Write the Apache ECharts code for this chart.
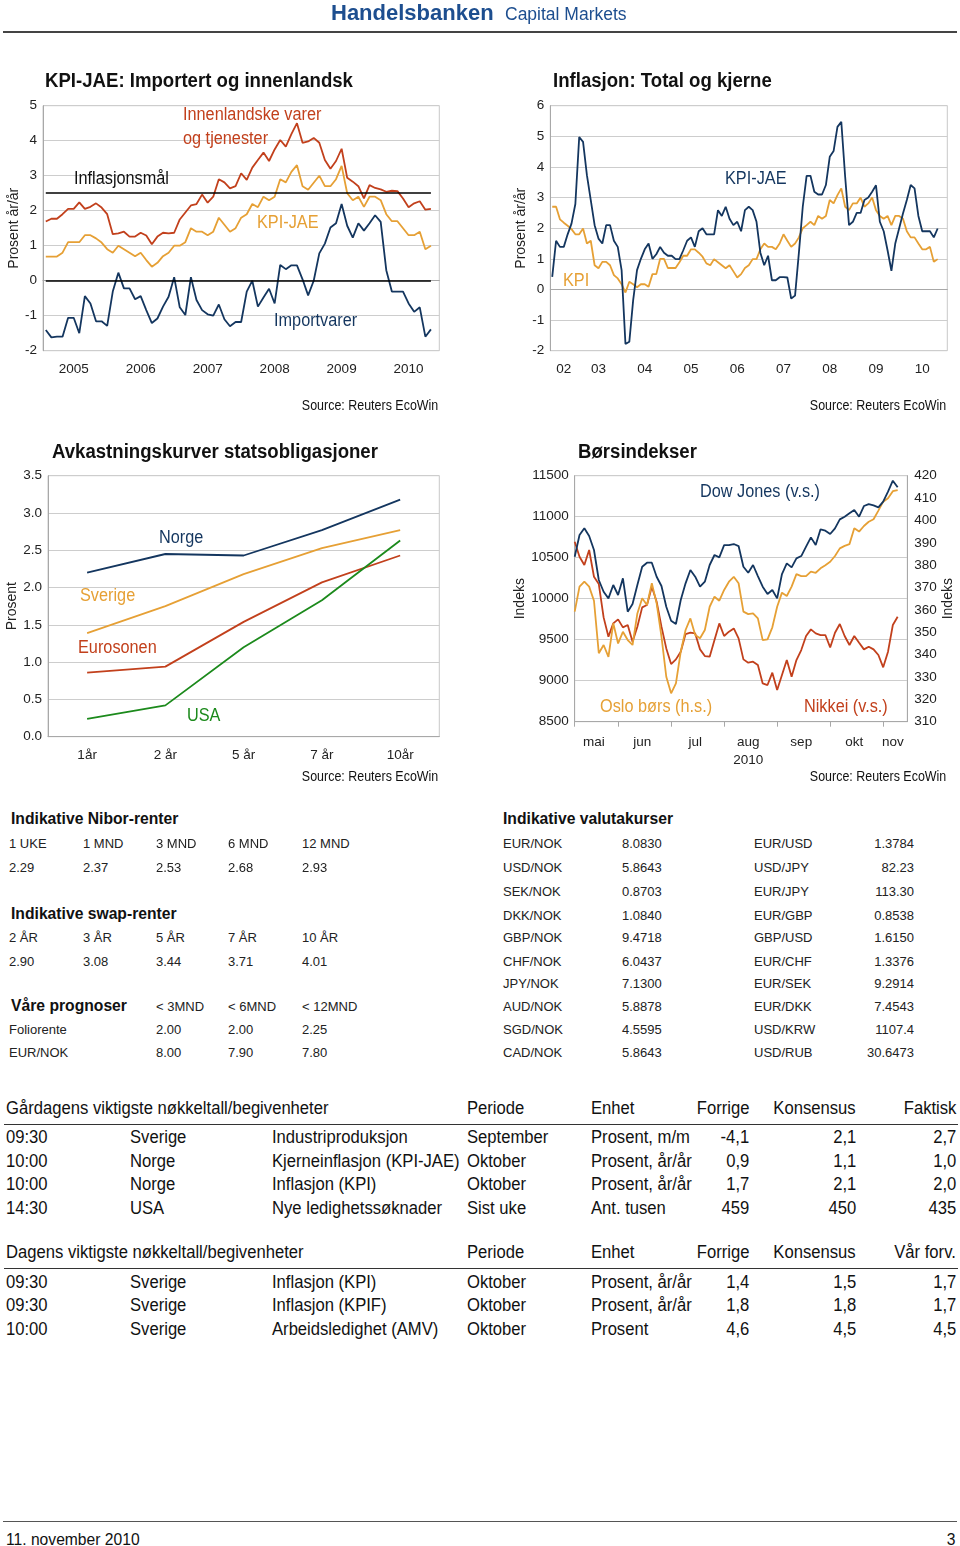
<!DOCTYPE html>
<html>
<head>
<meta charset="utf-8">
<script src="https://cdn.jsdelivr.net/npm/echarts@6/dist/echarts.min.js"></script>
<style>
  html,body{margin:0;padding:0;background:#fff;}
  body{width:960px;height:1546px;position:relative;overflow:hidden;font-family:'Liberation Sans',Arial,sans-serif;}
  #chart{position:absolute;left:0;top:0;width:960px;height:800px;}
  .t{position:absolute;white-space:nowrap;line-height:1;color:#111;z-index:2;}
  .hs{font-size:13px;color:#222;}
  .hb{font-size:15.7px;font-weight:bold;color:#111;}
  .bt{font-size:17.5px;color:#111;}
  .rule{position:absolute;height:0;}
</style>
</head>
<body>
<div id="chart"></div>
<script>
// ---------------- DATA ----------------
// Chart 1: KPI-JAE: Importert og innenlandsk (monthly, Jan 2005 - Oct 2010)
const domesticGoods = [1.69,1.77,1.77,1.9,2.05,2.05,2.24,2.05,2.11,2.21,2.09,1.9,
  1.33,1.35,1.4,1.26,1.26,1.37,1.29,1.04,1.26,1.37,1.35,1.37,
  1.75,1.95,2.15,2.19,2.46,2.23,2.4,2.9,2.81,2.64,2.7,3.07,
  2.88,3.23,3.45,3.66,3.42,3.75,4.02,3.83,4.19,4.5,3.94,3.98,
  4.08,3.94,3.45,3.2,3.42,3.77,2.94,2.83,2.7,2.35,2.73,2.65,
  2.61,2.54,2.57,2.56,2.35,2.1,2.21,2.27,2.03,2.05];
const kpiJaeCore = [0.69,0.69,0.69,0.8,1.1,1.1,1.1,1.3,1.3,1.21,1.09,0.9,
  0.8,1.0,0.9,0.8,0.7,0.8,0.59,0.4,0.51,0.7,0.8,1.0,
  1.0,1.1,1.5,1.4,1.4,1.3,1.4,1.8,1.6,1.4,1.5,1.8,
  1.9,2.19,2.1,2.4,2.3,2.4,2.9,2.81,3.11,3.3,2.7,2.6,
  2.8,3.0,2.7,2.7,2.9,3.28,2.5,2.3,2.4,2.11,2.4,2.4,
  2.3,1.9,1.7,1.7,1.5,1.3,1.3,1.4,0.9,1.0];
const importGoods = [-1.41,-1.62,-1.6,-1.6,-1.06,-1.06,-1.5,-0.44,-0.65,-1.16,-1.16,-1.29,
  -0.31,0.23,-0.22,-0.22,-0.53,-0.44,-0.84,-1.21,-1.08,-0.74,-0.46,0.1,
  -0.76,-0.98,0.1,-0.55,-0.84,-0.96,-1.0,-0.68,-1.1,-1.3,-1.18,-1.18,
  -0.31,0.0,-0.74,-0.48,-0.23,-0.65,0.45,0.33,0.44,0.44,0.04,-0.42,
  0.0,0.78,1.06,1.52,1.64,2.19,1.57,1.23,1.64,1.43,1.64,1.87,
  1.68,0.3,-0.31,-0.31,-0.31,-0.65,-0.89,-0.76,-1.6,-1.39];
const inflationTarget = 2.5;
const zeroLine = 0;

// Chart 2: Inflasjon: Total og kjerne (monthly, Jun 2002 - Oct 2010)
const inflKpiJae = [0.41,1.59,1.39,1.39,1.8,2.15,2.79,
  4.98,4.82,3.73,2.92,2.1,1.66,1.5,2.1,2.1,1.59,1.39,0.63,
  -1.78,-1.71,-0.35,0.63,1.0,1.31,1.5,1.0,1.15,1.39,1.2,1.1,
  1.1,0.99,0.99,1.28,1.59,1.7,1.39,1.9,2.0,1.8,1.8,1.8,
  2.59,2.4,2.7,2.31,2.1,2.21,1.9,2.59,2.7,2.59,2.21,1.2,
  0.79,1.1,0.3,0.3,0.4,0.4,0.39,-0.3,-0.2,1.2,2.7,3.71,
  3.71,3.19,3.1,3.1,3.41,4.33,4.52,5.31,5.47,3.68,2.1,2.21,
  2.5,2.5,2.92,3.0,3.19,3.4,2.21,1.9,1.28,0.61,1.5,1.99,
  2.48,2.92,3.41,3.3,2.4,1.9,1.9,1.9,1.7,1.99];
const inflKpi = [2.7,2.7,2.29,2.18,2.08,1.97,1.8,
  1.8,1.99,1.5,1.59,0.79,0.69,0.9,0.9,0.79,0.47,0.36,0.17,
  -0.1,0.25,0.17,0.07,0.17,0.17,0.09,0.5,0.5,1.0,1.0,0.7,
  0.7,0.7,0.89,1.1,1.1,1.31,1.31,1.2,1.07,0.85,0.79,0.99,
  0.89,0.79,0.69,0.79,0.59,0.39,0.5,0.7,0.79,0.99,0.99,1.31,
  1.5,1.39,1.39,1.31,1.5,1.8,1.59,1.39,1.5,1.7,2.0,2.1,
  2.21,2.1,2.4,2.31,2.4,2.92,2.81,3.08,3.3,2.7,2.59,2.81,
  2.81,3.0,2.7,2.81,3.0,2.59,2.4,2.31,2.4,2.1,2.4,2.4,
  2.31,1.9,1.7,1.7,1.5,1.31,1.31,1.39,0.9,0.99];

// Chart 3: Avkastningskurver statsobligasjoner
const maturities = ['1år','2 år','5 år','7 år','10år'];
const yieldNorge = [2.2,2.45,2.43,2.77,3.18];
const yieldSverige = [1.39,1.75,2.18,2.53,2.77];
const yieldEuro = [0.86,0.94,1.54,2.07,2.43];
const yieldUSA = [0.24,0.42,1.2,1.83,2.63];

// Chart 4: Børsindekser (every second trading day, May - Nov 2010)
const dowJones = [10512,10776,10858,10764,10594,10228,10085,10004,10167,10045,
  10248,9841,9935,10167,10390,10439,10439,10268,10155,9902,
  9732,9691,9984,10187,10350,10268,10146,10207,10411,10533,
  10504,10654,10654,10667,10642,10390,10317,10411,10276,10146,
  10057,10106,10004,10301,10431,10382,10492,10520,10634,10748,
  10654,10846,10829,10789,10858,10967,11000,11041,11081,11000,
  11130,11154,11138,11114,11183,11305,11439,11358];
const osloBors = [359.2,370.4,372.6,370.4,364.1,340.6,344.3,339,354,345,
  350.2,346.5,344.3,358.4,365.2,362.2,371.9,362.9,348,330.1,
  322.7,327.1,341.3,351,356.2,348.8,347.3,351,361.4,365.9,
  364.1,368.9,372.6,374.8,371.9,359.2,358.1,358.4,356.2,346.5,
  346.8,352.2,361.4,367.7,366.2,370.4,376,375.1,375.1,377.1,
  376.6,378.6,380,381.5,384.1,387.5,388.6,389.4,396.5,395,
  397.5,399.4,400.5,404.4,408.4,409.9,413.1,413.6];
const nikkei = [10695,10512,10411,10594,10268,10179,9772,9537,9699,9748,
  9650,9679,9476,9659,9894,9923,10146,9963,9659,9394,
  9203,9260,9354,9569,9585,9577,9382,9301,9293,9496,
  9699,9545,9598,9638,9516,9260,9220,9232,9191,8967,
  8947,9098,8886,9069,9252,9049,9252,9374,9545,9626,
  9577,9557,9557,9406,9585,9691,9545,9435,9545,9463,
  9382,9415,9382,9313,9163,9354,9679,9780];
const monthNames = ['jan','feb','mar','apr','mai','jun','jul','aug','sep','okt','nov','des'];

// Tables
const niborHeads = ['1 UKE','1 MND','3 MND','6 MND','12 MND'];
const niborVals = ['2.29','2.37','2.53','2.68','2.93'];
const swapHeads = ['2 ÅR','3 ÅR','5 ÅR','7 ÅR','10 ÅR'];
const swapVals = ['2.90','3.08','3.44','3.71','4.01'];
const progHeads = ['< 3MND','< 6MND','< 12MND'];
const progRows = [['Foliorente','2.00','2.00','2.25'],['EUR/NOK','8.00','7.90','7.80']];
const fxLeft = [['EUR/NOK','8.0830'],['USD/NOK','5.8643'],['SEK/NOK','0.8703'],['DKK/NOK','1.0840'],['GBP/NOK','9.4718'],
  ['CHF/NOK','6.0437'],['JPY/NOK','7.1300'],['AUD/NOK','5.8878'],['SGD/NOK','4.5595'],['CAD/NOK','5.8643']];
const fxRight = [['EUR/USD','1.3784'],['USD/JPY','82.23'],['EUR/JPY','113.30'],['EUR/GBP','0.8538'],['GBP/USD','1.6150'],
  ['EUR/CHF','1.3376'],['EUR/SEK','9.2914'],['EUR/DKK','7.4543'],['USD/KRW','1107.4'],['USD/RUB','30.6473']];
const yHead = ['Gårdagens viktigste nøkkeltall/begivenheter','Periode','Enhet','Forrige','Konsensus','Faktisk'];
const yRows = [['09:30','Sverige','Industriproduksjon','September','Prosent, m/m','-4,1','2,1','2,7'],
  ['10:00','Norge','Kjerneinflasjon (KPI-JAE)','Oktober','Prosent, år/år','0,9','1,1','1,0'],
  ['10:00','Norge','Inflasjon (KPI)','Oktober','Prosent, år/år','1,7','2,1','2,0'],
  ['14:30','USA','Nye ledighetssøknader','Sist uke','Ant. tusen','459','450','435']];
const tHead = ['Dagens viktigste nøkkeltall/begivenheter','Periode','Enhet','Forrige','Konsensus','Vår forv.'];
const tRows = [['09:30','Sverige','Inflasjon (KPI)','Oktober','Prosent, år/år','1,4','1,5','1,7'],
  ['09:30','Sverige','Inflasjon (KPIF)','Oktober','Prosent, år/år','1,8','1,8','1,7'],
  ['10:00','Sverige','Arbeidsledighet (AMV)','Oktober','Prosent','4,6','4,5','4,5']];

// ---------------- HELPERS ----------------
function monthRange(y0,m0,y1,m1){const out=[];let y=y0,m=m0;
  while(y<y1||(y===y1&&m<=m1)){out.push(y+'-'+String(m).padStart(2,'0'));m++;if(m>12){m=1;y++;}}return out;}
function weekdaysEveryOther(start,end){const out=[];const d=new Date(start+'T00:00:00Z');const e=new Date(end+'T00:00:00Z');let n=0;
  while(d<=e){const wd=d.getUTCDay();if(wd!==0&&wd!==6){if(n%2===0)out.push(d.toISOString().slice(0,10));n++;}d.setUTCDate(d.getUTCDate()+1);}return out;}
function runs(cats,keyFn){const starts=new Set(),mids=new Map();let s=0;
  for(let i=1;i<=cats.length;i++){if(i===cats.length||keyFn(cats[i])!==keyFn(cats[s])){starts.add(s);mids.set(s+Math.floor((i-s-1)/2),keyFn(cats[s]));s=i;}}
  return {starts,mids};}

const months1 = monthRange(2005,1,2010,11);
const months2 = monthRange(2002,6,2010,12);
const days4 = weekdaysEveryOther('2010-05-06','2010-11-16');
const run1 = runs(months1,c=>c.slice(0,4));
const run2 = runs(months2,c=>c.slice(2,4));
const run4 = runs(days4,c=>c.slice(0,7));

const NAVY='#14365f', RED='#c2401c', ORANGE='#e6a035', GREEN='#1c8a1c';
const FONT="'Liberation Sans',Arial,sans-serif";
const axText={color:'#222',fontFamily:FONT,fontSize:13.5};
const gridLine={show:true,lineStyle:{color:'#cdcdcd',width:1}};
const axLine={show:true,lineStyle:{color:'#a8a8a8',width:1}};

function yAx(gi,min,max,interval,name,gap,extra){
  return Object.assign({gridIndex:gi,type:'value',min,max,interval,axisLine:axLine,axisTick:{show:false},
    splitLine:gridLine,axisLabel:Object.assign({margin:6},axText),
    name,nameLocation:'middle',nameGap:gap,nameTextStyle:Object.assign({},axText,{fontSize:14})},extra||{});
}
function line(xi,yi,data,color,name){
  return {type:'line',name,xAxisIndex:xi,yAxisIndex:yi,data,symbol:'none',showSymbol:false,
    lineStyle:{color,width:1.8},itemStyle:{color},emphasis:{disabled:true}};
}

const s1 = line(0,0,domesticGoods,RED,'Innenlandske varer og tjenester');
s1.markLine = {silent:true,symbol:'none',label:{show:false},animation:false,
  lineStyle:{color:'#000',width:1.6,type:'solid'},
  data:[[{coord:[months1[0],inflationTarget]},{coord:[months1[domesticGoods.length-1],inflationTarget]}],
        [{coord:[months1[0],zeroLine]},{coord:[months1[domesticGoods.length-1],zeroLine]}]]};

const option = {
  animation:false,
  textStyle:{fontFamily:FONT},
  grid:[
    {left:43,top:105.7,width:396.3,height:245,show:true,borderColor:'#c8c8c8',borderWidth:1},
    {left:550.3,top:105.7,width:397,height:245,show:true,borderColor:'#c8c8c8',borderWidth:1},
    {left:48,top:475.7,width:391.3,height:261,show:true,borderColor:'#c8c8c8',borderWidth:1},
    {left:574.7,top:475.7,width:332.6,height:246,show:true,borderColor:'#c8c8c8',borderWidth:1}
  ],
  xAxis:[
    {gridIndex:0,type:'category',data:months1,boundaryGap:true,axisLine:axLine,
      axisTick:{interval:(i)=>run1.starts.has(i),length:5,lineStyle:{color:'#a8a8a8'}},
      axisLabel:Object.assign({interval:(i)=>run1.mids.has(i),formatter:(v,i)=>run1.mids.get(i)||'',margin:12},axText),splitLine:{show:false}},
    {gridIndex:1,type:'category',data:months2,boundaryGap:true,axisLine:axLine,
      axisTick:{interval:(i)=>run2.starts.has(i),length:5,lineStyle:{color:'#a8a8a8'}},
      axisLabel:Object.assign({interval:(i)=>run2.mids.has(i),formatter:(v,i)=>run2.mids.get(i)||'',margin:12},axText),splitLine:{show:false}},
    {gridIndex:2,type:'category',data:maturities,boundaryGap:true,axisLine:axLine,
      axisTick:{alignWithLabel:true,length:5,lineStyle:{color:'#a8a8a8'}},
      axisLabel:Object.assign({margin:12},axText),splitLine:{show:false}},
    {gridIndex:3,type:'category',data:days4,boundaryGap:false,axisLine:axLine,
      axisTick:{interval:(i)=>run4.starts.has(i),length:5,lineStyle:{color:'#a8a8a8'}},
      axisLabel:Object.assign({interval:(i)=>run4.mids.has(i),lineHeight:18,
        formatter:(v,i)=>{const k=run4.mids.get(i);if(!k)return '';const m=monthNames[+k.slice(5,7)-1];return m==='aug'?'aug\n'+k.slice(0,4):m;},margin:12},axText),
      splitLine:{show:false}}
  ],
  yAxis:[
    yAx(0,-2,5,1,'Prosent år/år',22),
    yAx(1,-2,6,1,'Prosent år/år',20),
    yAx(2,0,3.5,0.5,'Prosent',26,{axisLabel:Object.assign({margin:6,formatter:v=>v.toFixed(1)},axText)}),
    yAx(3,8500,11500,500,'Indeks',45,{axisLabel:Object.assign({margin:6,formatter:v=>String(v)},axText)}),
    yAx(3,310,420,10,'Indeks',29,{position:'right',splitLine:{show:false},axisLabel:Object.assign({margin:7,formatter:v=>String(v)},axText)})
  ],
  series:[
    s1,
    line(0,0,kpiJaeCore,ORANGE,'KPI-JAE'),
    line(0,0,importGoods,NAVY,'Importvarer'),
    line(1,1,inflKpi,ORANGE,'KPI'),
    line(1,1,inflKpiJae,NAVY,'KPI-JAE'),
    line(2,2,yieldNorge,NAVY,'Norge'),
    line(2,2,yieldSverige,ORANGE,'Sverige'),
    line(2,2,yieldEuro,RED,'Eurosonen'),
    line(2,2,yieldUSA,GREEN,'USA'),
    line(3,3,nikkei,RED,'Nikkei (v.s.)'),
    line(3,4,osloBors,ORANGE,'Oslo børs (h.s.)'),
    line(3,3,dowJones,NAVY,'Dow Jones (v.s.)')
  ]
};
const chart = echarts.init(document.getElementById('chart'),null,{renderer:'canvas',width:960,height:800});
chart.setOption(option);

// ---------------- HTML TEXT (titles, annotations, tables) ----------------
function put(x,y,text,cls,right,style,sx){
  const d=document.createElement('div');d.className='t '+(cls||'');
  if(right){d.style.right=(960-x)+'px';d.style.transformOrigin='right center';}
  else{d.style.left=x+'px';d.style.transformOrigin='left center';}
  d.style.top=y+'px';
  d.style.transform='translateY(-50%)'+(sx?' scaleX('+sx+')':'');
  d.textContent=text;if(style)Object.assign(d.style,style);document.body.appendChild(d);return d;}
function rule(x,y,w,h,color){const d=document.createElement('div');d.className='rule';
  Object.assign(d.style,{left:x+'px',top:y+'px',width:w+'px',borderTop:h+'px solid '+color});document.body.appendChild(d);}

const TITLE={fontSize:'20px',fontWeight:'bold',color:'#111'};
const ANN=(c)=>({fontSize:'17.5px',color:c});
const SRC={fontSize:'14px',color:'#111'};
// chart 1
put(45,80,'KPI-JAE: Importert og innenlandsk','',false,TITLE,0.93);
put(183,115,'Innenlandske varer','',false,ANN(RED),0.93);
put(183,139,'og tjenester','',false,ANN(RED),0.93);
put(74,179,'Inflasjonsmål','',false,ANN('#111'),0.93);
put(257,223,'KPI-JAE','',false,ANN(ORANGE),0.93);
put(274,321,'Importvarer','',false,ANN(NAVY),0.93);
put(438,405,'Source: Reuters EcoWin','',true,SRC,0.89);
// chart 2
put(553,80,'Inflasjon: Total og kjerne','',false,TITLE,0.93);
put(725,179,'KPI-JAE','',false,ANN(NAVY),0.93);
put(563,281,'KPI','',false,ANN(ORANGE),0.93);
put(946,405,'Source: Reuters EcoWin','',true,SRC,0.89);
// chart 3
put(52,451,'Avkastningskurver statsobligasjoner','',false,TITLE,0.93);
put(159,538,'Norge','',false,ANN(NAVY),0.93);
put(80,596,'Sverige','',false,ANN(ORANGE),0.93);
put(78,648,'Eurosonen','',false,ANN(RED),0.93);
put(187,716,'USA','',false,ANN(GREEN),0.93);
put(438,776,'Source: Reuters EcoWin','',true,SRC,0.89);
// chart 4
put(578,451,'Børsindekser','',false,TITLE,0.93);
put(700,492,'Dow Jones (v.s.)','',false,ANN(NAVY),0.93);
put(600,707,'Oslo børs (h.s.)','',false,ANN(ORANGE),0.93);
put(804,707,'Nikkei (v.s.)','',false,ANN(RED),0.93);
put(946,776,'Source: Reuters EcoWin','',true,SRC,0.89);

// header
put(331,13,'Handelsbanken','',false,{fontWeight:'bold',fontSize:'22px',color:'#1d4e8f'},1.0);
put(505,15,'Capital Markets','',false,{fontSize:'17.5px',color:'#1d4e8f'},1.0);
rule(3,31,954,2,'#444');

// left small tables
const colL=[9,83,156,228,302];
put(11,819,'Indikative Nibor-renter','hb');
niborHeads.forEach((s,i)=>put(colL[i],843,s,'hs'));
niborVals.forEach((s,i)=>put(colL[i],867,s,'hs'));
put(11,914,'Indikative swap-renter','hb');
swapHeads.forEach((s,i)=>put(colL[i],937,s,'hs'));
swapVals.forEach((s,i)=>put(colL[i],961,s,'hs'));
put(11,1006,'Våre prognoser','hb');
progHeads.forEach((s,i)=>put(colL[i+2],1006,s,'hs'));
const progY=[1029,1052];
progRows.forEach((r,j)=>{put(colL[0],progY[j],r[0],'hs');r.slice(1).forEach((s,i)=>put(colL[i+2],progY[j],s,'hs'));});

// fx table
put(503,819,'Indikative valutakurser','hb');
const fxY=[843,867,891,915,937,961,983,1006,1029,1052];
fxLeft.forEach((r,j)=>{put(503,fxY[j],r[0],'hs');put(622,fxY[j],r[1],'hs');});
fxRight.forEach((r,j)=>{put(754,fxY[j],r[0],'hs');put(914,fxY[j],r[1],'hs',true);});

// bottom tables
const bx=[6,130,272,467,591,749,856,956];
const BS=0.95;
function bigTable(head,rows,y0,ys){
  put(bx[0],y0,head[0],'bt',false,null,BS);put(bx[3],y0,head[1],'bt',false,null,BS);put(bx[4],y0,head[2],'bt',false,null,BS);
  put(bx[5],y0,head[3],'bt',true,null,BS);put(bx[6],y0,head[4],'bt',true,null,BS);put(bx[7],y0,head[5],'bt',true,null,BS);
  rule(4,y0+15,954,1.5,'#333');
  rows.forEach((r,j)=>{r.forEach((s,i)=>put(bx[i],ys[j],s,'bt',i>=5,null,BS));});
}
bigTable(yHead,yRows,1109,[1138,1162,1185,1209]);
bigTable(tHead,tRows,1253,[1283,1306,1330]);

// footer
rule(3,1521,954,1.5,'#555');
put(6,1539,'11. november 2010','bt',false,{fontSize:'17px'},0.92);
put(955,1539,'3','bt',true,{fontSize:'17px'},0.92);
</script>
</body>
</html>
